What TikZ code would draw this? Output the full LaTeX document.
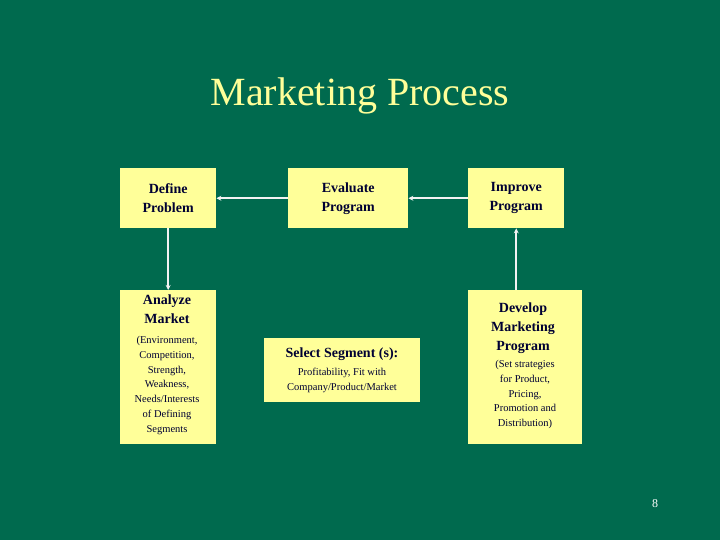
\documentclass[tikz,border=0pt]{standalone}
\usepackage{fontspec}
\setmainfont{Liberation Serif}
\usetikzlibrary{arrows.meta}
\definecolor{bg}{HTML}{006A4E}
\definecolor{boxc}{HTML}{FFFF99}
\definecolor{txt}{HTML}{000033}
\definecolor{ttl}{HTML}{FFFF99}
\begin{document}
\begin{tikzpicture}[x=1pt,y=-1pt,
  bx/.style={fill=boxc,draw=none,inner sep=0pt,text=txt,align=center,anchor=north west},
  hd/.style={text=txt,align=center,inner sep=0pt,font=\fontsize{14}{19}\selectfont\bfseries},
  sm/.style={text=txt,align=center,inner sep=0pt,font=\fontsize{10.5}{14.8}\selectfont},
  conn/.style={draw=white!90!gray,line width=1.6pt,-{Stealth[length=5pt,width=5pt]}}]
\fill[bg] (0,0) rectangle (720,540);
\useasboundingbox (0,0) rectangle (720,540);
\node[text=ttl,font=\fontsize{40}{44}\selectfont] (title) at (360,96) {Marketing Process};
\node[bx,minimum width=96pt,minimum height=60pt] (def) at (120,168) {};
\node[hd] (deft) at (def.center) {Define\\Problem};
\node[bx,minimum width=120pt,minimum height=60pt] (eva) at (288,168) {};
\node[hd] (evat) at (eva.center) {Evaluate\\Program};
\node[bx,minimum width=96pt,minimum height=60pt] (imp) at (468,168) {};
\node[hd] (impt) at (imp.center) {Improve\\Program};
\node[bx,minimum width=96pt,minimum height=154pt] (ana) at (120,290) {};
\node[hd,anchor=north] (anah) at (167,295) {Analyze\\Market};
\node[sm,anchor=north] (anas) at (167,336) {(Environment,\\Competition,\\Strength,\\Weakness,\\Needs/Interests\\of Defining\\Segments};
\node[bx,minimum width=156pt,minimum height=64pt] (sel) at (264,338) {};
\node[hd,anchor=north] (selh) at (342,348) {Select Segment (s):};
\node[sm,anchor=north] (sels) at (342,368) {Profitability, Fit with\\Company/Product/Market};
\node[bx,minimum width=114pt,minimum height=154pt] (dev) at (468,290) {};
\node[hd,anchor=north] (devh) at (523,303) {Develop\\Marketing\\Program};
\node[sm,anchor=north] (devs) at (525,360) {(Set strategies\\for Product,\\Pricing,\\Promotion and\\Distribution)};
\node[text=white,font=\fontsize{12}{14}\selectfont] (pg) at (655,504) {8};
\draw[conn] (eva.west) -- (def.east);
\draw[conn] (imp.west) -- (eva.east);
\draw[conn] (def.south) -- (ana.north -| def.south);
\draw[conn] (dev.north -| imp.south) -- (imp.south);
\end{tikzpicture}
\end{document}
